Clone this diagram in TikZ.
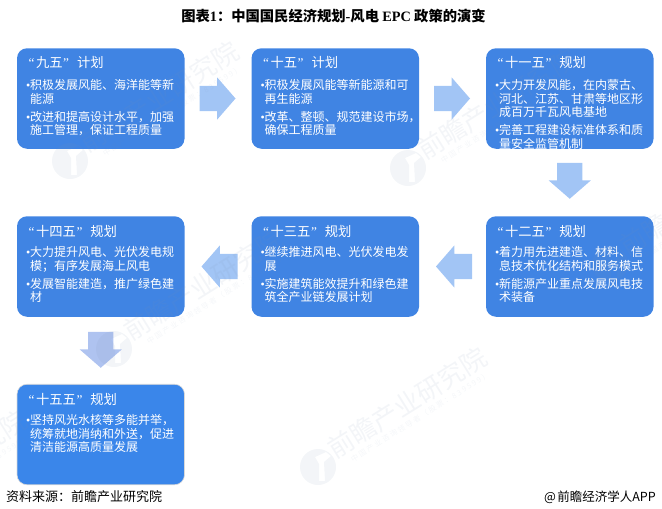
\documentclass[tikz,border=0pt]{standalone}
\usepackage{fontspec}
\setmainfont{Noto Sans CJK SC}
\newfontfamily\latinserif{Liberation Serif}
\newfontfamily\wmsmall[LetterSpace=22]{Noto Sans CJK SC}
\usetikzlibrary{positioning,shapes.arrows}
\definecolor{planblue}{HTML}{4084E3}
\definecolor{lastblue}{HTML}{3A86EA}
\definecolor{arrowblue}{HTML}{A2C5F5}
\definecolor{lastarrow}{HTML}{AFC3F0}
\definecolor{wmgray}{HTML}{7F90B0}
\newcommand{\planbul}{\llap{{\latinserif •}}}
\newcommand{\planq}[1]{{\latinserif “}\kern1.5pt#1\kern.5pt{\latinserif ”}\kern8pt}
\tikzset{
    planbox/.style={fill=planblue,rounded corners=10pt,minimum width=167.5pt,minimum height=100.5pt,inner sep=0pt,outer sep=0pt},
    plantitle/.style={anchor=west,text=white,inner sep=0pt,font=\fontsize{13.3}{14}\selectfont},
    plantext/.style={anchor=north west,text=white,inner sep=0pt,align=left,font=\fontsize{12}{13.6}\selectfont},
    planarrow/.style={single arrow,fill=arrowblue,inner xsep=0pt,inner ysep=12.5pt,outer sep=0pt,minimum height=36pt,single arrow head extend=8.5pt,single arrow tip angle=98},
    wmtext/.style={text=wmgray,text opacity=.09,rotate=32,inner sep=0pt,font=\fontsize{26}{28}\selectfont},
    wmsub/.style={text=wmgray,text opacity=.08,rotate=32,inner sep=0pt,font=\wmsmall\fontsize{7.5}{9}\selectfont},
    wmlogo/.style={fill=wmgray,fill opacity=.09,even odd rule}
}
\begin{document}
\begin{tikzpicture}[x=1pt,y=-1pt]
    \useasboundingbox (0,0) rectangle (662,509);
    %% heading
    \node[inner sep=0pt,font=\fontsize{14.3}{16}\selectfont\bfseries] (heading) at (333.5,16) {图表{\latinserif 1}：中国国民经济规划{\latinserif -}风电 {\latinserif EPC} 政策的演变};
    %% plan boxes
    \node[planbox] (jiuwu) at (100.75,98.5) {};
    \node[planbox,right=67pt of jiuwu] (shiwu) {};
    \node[planbox,right=67pt of shiwu] (shiyiwu) {};
    \node[planbox,below=67.5pt of shiyiwu] (shierwu) {};
    \node[planbox,left=67pt of shierwu] (shisanwu) {};
    \node[planbox,left=67pt of shisanwu] (shisiwu) {};
    \node[planbox,below=67.5pt of shisiwu,fill=lastblue,draw=black!15,line width=.6pt] (shiwuwu) {};
    %% arrows between the boxes
    \node[planarrow,right=15pt of jiuwu] (jiuwuarrow) {};
    \node[planarrow,right=15pt of shiwu] (shiwuarrow) {};
    \node[planarrow,rotate=-90,anchor=tail] (shiyiwuarrow) at ([yshift=-14pt]shiyiwu.south) {};
    \node[planarrow,rotate=180,anchor=tail] (shierwuarrow) at ([xshift=-14pt]shierwu.west) {};
    \node[planarrow,rotate=180,anchor=tail] (shisanwuarrow) at ([xshift=-14pt]shisanwu.west) {};
    \node[planarrow,rotate=-90,anchor=tail,fill=lastarrow] (shisiwuarrow) at ([yshift=-15pt]shisiwu.south) {};
    %% watermarks
    \foreach \x/\y/\n in {159/97/a,497/104/b,203/285/c,407/403/d,699/200/e,-53/466/f} {
        \node[wmtext] (wm\n) at (\x,\y) {前瞻产业研究院};
        \node[wmsub] (wmsub\n) at (\x+13,\y+14) {中国产业咨询领导者（股票：839599）};
        \fill[wmlogo] (\x-89,\y+64) circle (18)
            (\x-92,\y+54) -- (\x-81,\y+49) -- (\x-76,\y+53) -- (\x-83,\y+59) -- (\x-82,\y+78) -- (\x-88,\y+78) -- (\x-88,\y+61) -- cycle;
    }
    %% box texts
    \node[plantitle] (jiuwutitle) at ([xshift=11.5pt,yshift=-14.5pt]jiuwu.north west) {\planq{九五}计划};
    \node[plantext] (jiuwutext) at ([xshift=13pt,yshift=-31pt]jiuwu.north west) {\planbul 积极发展风能、海洋能等新\\能源\\[4.4pt]\planbul 改进和提高设计水平，加强\\施工管理，保证工程质量};
    \node[plantitle] (shiwutitle) at ([xshift=11.5pt,yshift=-14.5pt]shiwu.north west) {\planq{十五}计划};
    \node[plantext] (shiwutext) at ([xshift=13pt,yshift=-31pt]shiwu.north west) {\planbul 积极发展风能等新能源和可\\再生能源\\[4.4pt]\planbul 改革、整顿、规范建设市场，\\确保工程质量};
    \node[plantitle] (shiyiwutitle) at ([xshift=11.5pt,yshift=-14.5pt]shiyiwu.north west) {\planq{十一五}规划};
    \node[plantext] (shiyiwutext) at ([xshift=13pt,yshift=-31pt]shiyiwu.north west) {\planbul 大力开发风能，在内蒙古、\\河北、江苏、甘肃等地区形\\成百万千瓦风电基地\\[4.4pt]\planbul 完善工程建设标准体系和质\\量安全监管机制};
    \node[plantitle] (shierwutitle) at ([xshift=11.5pt,yshift=-15.5pt]shierwu.north west) {\planq{十二五}规划};
    \node[plantext] (shierwutext) at ([xshift=13pt,yshift=-30pt]shierwu.north west) {\planbul 着力用先进建造、材料、信\\息技术优化结构和服务模式\\[4.4pt]\planbul 新能源产业重点发展风电技\\术装备};
    \node[plantitle] (shisanwutitle) at ([xshift=11.5pt,yshift=-15.5pt]shisanwu.north west) {\planq{十三五}规划};
    \node[plantext] (shisanwutext) at ([xshift=13pt,yshift=-30pt]shisanwu.north west) {\planbul 继续推进风电、光伏发电发\\展\\[4.4pt]\planbul 实施建筑能效提升和绿色建\\筑全产业链发展计划};
    \node[plantitle] (shisiwutitle) at ([xshift=11.5pt,yshift=-15.5pt]shisiwu.north west) {\planq{十四五}规划};
    \node[plantext] (shisiwutext) at ([xshift=13pt,yshift=-30pt]shisiwu.north west) {\planbul 大力提升风电、光伏发电规\\模；有序发展海上风电\\[4.4pt]\planbul 发展智能建造，推广绿色建\\材};
    \node[plantitle] (shiwuwutitle) at ([xshift=11.5pt,yshift=-15.5pt]shiwuwu.north west) {\planq{十五五}规划};
    \node[plantext] (shiwuwutext) at ([xshift=13pt,yshift=-30pt]shiwuwu.north west) {\planbul 坚持风光水核等多能并举，\\统筹就地消纳和外送，促进\\清洁能源高质量发展};
    %% source lines
    \node[anchor=west,inner sep=0pt,font=\fontsize{13}{15}\selectfont] (source) at (6,497) {资料来源：前瞻产业研究院};
    \node[anchor=east,inner sep=0pt,font=\fontsize{12.5}{15}\selectfont] (credit) at (656,497) {@\kern1.5pt前瞻经济学人APP};
\end{tikzpicture}
\end{document}
